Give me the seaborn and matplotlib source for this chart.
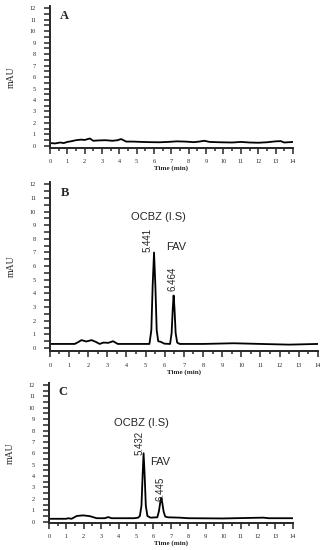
import numpy as np
import pandas as pd
import matplotlib
matplotlib.use("Agg")
import matplotlib.pyplot as plt
from matplotlib.ticker import MultipleLocator
import seaborn as sns

# chromatogram traces (time in min, absorbance in mAU)
time_a = [0, 0.3, 0.6, 0.8, 1.0, 1.2, 1.5, 1.8, 2.0, 2.3, 2.5, 2.8, 3.2, 3.6, 3.9, 4.1,
          4.4, 4.8, 5.3, 5.8, 6.3, 6.8, 7.3, 7.8, 8.3, 8.6, 8.9, 9.2, 9.8, 10.5, 11.0,
          11.5, 12.0, 12.5, 13.0, 13.3, 13.5, 14.0]
mau_a = [0.25, 0.22, 0.3, 0.25, 0.35, 0.4, 0.5, 0.55, 0.52, 0.65, 0.45, 0.48, 0.5, 0.45,
         0.5, 0.6, 0.38, 0.38, 0.35, 0.33, 0.32, 0.35, 0.4, 0.38, 0.33, 0.38, 0.45, 0.35,
         0.32, 0.3, 0.35, 0.3, 0.28, 0.32, 0.4, 0.42, 0.3, 0.35]

time_b = [0, 1.3, 1.5, 1.65, 1.9, 2.18, 2.4, 2.6, 2.8, 3.05, 3.3, 3.55, 4.5, 5.2, 5.3,
          5.37, 5.441, 5.51, 5.58, 5.66, 5.8, 5.98, 6.28, 6.36, 6.42, 6.464, 6.51, 6.57,
          6.65, 6.78, 8.0, 9.6, 11.0, 12.5, 14.0]
mau_b = [0.3, 0.3, 0.45, 0.58, 0.48, 0.58, 0.45, 0.3, 0.4, 0.38, 0.5, 0.3, 0.3, 0.3, 1.3,
         4.6, 7.0, 4.6, 1.3, 0.5, 0.45, 0.32, 0.3, 1.1, 2.9, 3.85, 2.9, 1.1, 0.4, 0.3,
         0.3, 0.35, 0.3, 0.25, 0.3]

time_c = [0, 1.0, 1.1, 1.3, 1.6, 1.97, 2.35, 2.74, 3.2, 3.4, 3.6, 4.9, 5.12, 5.22, 5.31,
          5.38, 5.432, 5.49, 5.56, 5.65, 5.82, 6.22, 6.31, 6.39, 6.445, 6.5, 6.58, 6.67,
          6.82, 7.5, 8.0, 10.0, 12.3, 12.6, 14.0]
mau_c = [0.25, 0.25, 0.3, 0.25, 0.5, 0.55, 0.48, 0.3, 0.3, 0.4, 0.3, 0.3, 0.35, 0.5, 1.4,
         4.2, 6.0, 4.2, 1.4, 0.5, 0.35, 0.38, 0.9, 1.7, 2.1, 1.7, 0.9, 0.45, 0.38, 0.35,
         0.3, 0.28, 0.35, 0.3, 0.3]

panel_labels = ["A", "B", "C"]
peak_names = ["OCBZ (I.S)", "FAV"]
rt_b = ["5.441", "6.464"]
rt_c = ["5.432", "6.445"]

sns.set_style("ticks")
plt.rcParams['font.family'] = ['Liberation Serif', 'DejaVu Serif']

fig = plt.figure(figsize=(3.24, 5.5), dpi=100)

# axes boxes [left, bottom, width, height] and lower y limit per panel
boxes = [[0.154, 0.7315, 0.750, 0.258],
         [0.154, 0.361, 0.827, 0.309],
         [0.151, 0.0495, 0.753, 0.2547]]
ylow = [-0.15, -0.25, -0.1]
traces = [(time_a, mau_a), (time_b, mau_b), (time_c, mau_c)]

axes = []
for i, (box, (t, v)) in enumerate(zip(boxes, traces)):
    ax = fig.add_axes(box)
    df = pd.DataFrame({"Time": t, "mAU": v})
    sns.lineplot(data=df, x="Time", y="mAU", ax=ax, color="black", linewidth=1.3)
    ax.set_xlim(0, 14)
    ax.set_ylim(ylow[i], 12.2)
    ax.xaxis.set_major_locator(MultipleLocator(1))
    ax.xaxis.set_minor_locator(MultipleLocator(0.5))
    ax.yaxis.set_major_locator(MultipleLocator(1))
    ax.yaxis.set_minor_locator(MultipleLocator(0.5))
    ax.tick_params(axis="both", which="major", length=4, width=1.1, labelsize=4.5, pad=2)
    ax.tick_params(axis="y", which="minor", length=4, width=1.1)
    ax.tick_params(axis="x", which="minor", length=2.5, width=1.1)
    ax.tick_params(axis="y", which="major", pad=6)
    ax.tick_params(axis="x", which="major", pad=4)
    for s in ["left", "bottom"]:
        ax.spines[s].set_linewidth(1.4)
    sns.despine(ax=ax)
    ax.set_xlabel("Time (min)", fontsize=5, fontweight="bold", labelpad=1)
    ax.set_ylabel("mAU", fontsize=7, labelpad=10)
    ax.text(0.04, 0.93, panel_labels[i], transform=ax.transAxes, fontsize=9,
            fontweight="bold", va="center", ha="left")
    axes.append(ax)

# peak annotations
sans = ['Liberation Sans', 'DejaVu Sans']
axB, axC = axes[1], axes[2]
axB.text(5.65, 9.6, peak_names[0], family=sans, fontsize=8, ha="center", va="center")
axB.text(5.1, 7.9, rt_b[0], family=sans, fontsize=7, rotation=90, ha="center", va="center")
axB.text(6.6, 7.4, peak_names[1], family=sans, fontsize=8, ha="center", va="center")
axB.text(6.4, 5.1, rt_b[1], family=sans, fontsize=7, rotation=90, ha="center", va="center")

axC.text(5.3, 8.7, peak_names[0], family=sans, fontsize=8, ha="center", va="center")
axC.text(5.2, 6.9, rt_c[0], family=sans, fontsize=7, rotation=90, ha="center", va="center")
axC.text(6.4, 5.2, peak_names[1], family=sans, fontsize=8, ha="center", va="center")
axC.text(6.4, 2.9, rt_c[1], family=sans, fontsize=7, rotation=90, ha="center", va="center")

fig.savefig("out.png", dpi=100)
